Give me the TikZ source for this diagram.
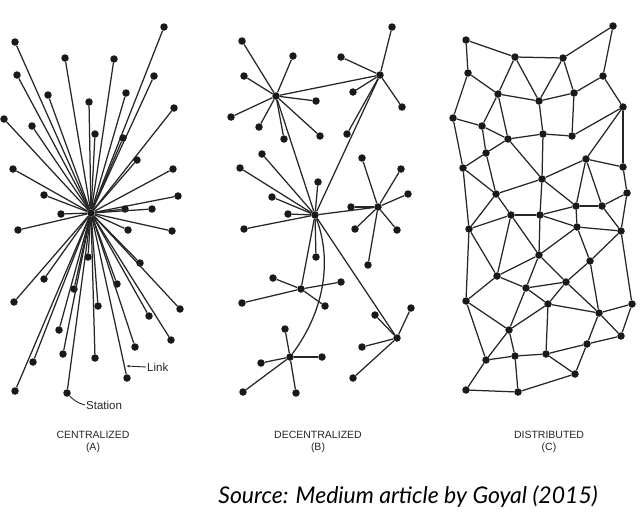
\documentclass[tikz,border=0pt]{standalone}
\usepackage{fontspec}
\newfontfamily\lblfont{Liberation Sans}
\newfontfamily\srcfont{Lato}
\usetikzlibrary{arrows.meta, positioning}

\begin{document}
\begin{tikzpicture}[
      x=1pt, y=-1pt,
      station/.style={circle, fill=black!90, inner sep=0pt, minimum size=7.5pt},
      link/.style={line width=1.25pt, black!85},
      panelcap/.style={font=\lblfont\fontsize{10.5}{12}\selectfont, align=center, black!85},
      tag/.style={font=\lblfont\fontsize{11.5}{13}\selectfont, black!85, inner sep=1pt},
    ]
      \useasboundingbox[fill=white] (0,0) rectangle (641,523);

      % (A) centralized
      \node[station] (a0) at (91,213) {};
      \foreach \x/\y [count=\i] in {164/27, 15/42, 65/58, 114/59, 17/75, 154/76, 48/95,
          126/93, 89/102, 174/108, 4/119, 32/126, 95/134, 123/138, 137/160, 13/169,
          173/169, 44/195, 178/196, 125/209, 152/209, 61/214, 18/230, 128/230, 172/231,
          88/257, 140/263, 44/279, 117/284, 74/289, 14/302, 180/309, 98/306, 149/316,
          59/330, 171/340, 135/347, 63/354, 95/358, 33/362, 127/378, 15/391, 67/393} {
        \node[station] (a\i) at (\x,\y) {};
        \draw[link] (a0) -- (a\i);
      }
      \coordinate (lk) at (126.5,366);
      \node[tag, anchor=west] (lblink) at (146,367) {Link};
      \draw[link, line width=0.9pt, -{Stealth[length=3.5pt]}] (lblink.west) -- (lk);
      \node[tag, anchor=west] (lbst) at (85,405) {Station};
      \draw[link, line width=0.9pt] (lbst.west) to[bend left=15] (a43);

      % (B) decentralized
      \node[station] (b0) at (315,215) {};
      \node[station] (b1) at (380,75) {};
      \node[station] (b2) at (276,96) {};
      \node[station] (b3) at (378,207) {};
      \node[station] (b4) at (301,289) {};
      \node[station] (b5) at (397,338) {};
      \node[station] (b6) at (290,357) {};
      \foreach \h/\pts in {
          b2/{242/41, 293/56, 244/76, 316/101, 231/117, 259/127, 284/139, 320/136},
          b1/{392/27, 341/57, 353/92, 402/107, 347/134},
          b0/{262/154, 240/168, 318/182, 272/197, 288/214, 244/229, 316/257},
          b3/{362/158, 401/169, 408/194, 351/207, 355/229, 397/230, 368/265},
          b4/{273/278, 341/282, 242/303, 325/306},
          b5/{411/308, 375/315, 362/347, 353/378},
          b6/{285/329, 322/357, 261/363, 243/392, 296/393}} {
        \foreach \x/\y [count=\i] in \pts {
          \node[station] (\h l\i) at (\x,\y) {};
          \draw[link] (\h) -- (\h l\i);
        }
      }
      \draw[link] (b2) -- (b1);
      \draw[link] (b2) -- (b0);
      \draw[link] (b1) -- (b0);
      \draw[link] (b0) -- (b3);
      \draw[link] (b0) -- (b4);
      \draw[link] (b0) -- (b5);
      \draw[link] (b0) .. controls (332,260) and (325,310) .. (b6);

      % (C) distributed
      \foreach \x/\y [count=\i] in {466/40, 613/26, 515/57, 563/58, 468/73, 603/76,
          498/94, 539/101, 574/93, 623/107, 453/118, 482/126, 508/139, 543/134, 572/136,
          486/153, 586/159, 463/168, 623/167, 542/179, 496/194, 627/193, 576/206,
          602/206, 511/215, 540/215, 577/227, 469/229, 621/231, 539/255, 590/261,
          497/276, 566/282, 526/288, 466/301, 548/304, 632/304, 599/313, 509/330,
          621/336, 587/344, 486/360, 515/356, 546/354, 575/374, 466/390, 518/392}
        \node[station] (c\i) at (\x,\y) {};
      \foreach \u/\v in {1/3, 1/5, 3/4, 4/2, 2/6, 3/7, 3/8, 4/8, 4/9, 5/7, 5/11, 6/9,
          6/10, 7/8, 8/9, 7/12, 7/13, 8/14, 9/15, 11/12, 11/18, 12/13, 12/16, 13/14,
          14/15, 13/16, 13/20, 15/10, 10/17, 10/19, 14/20, 16/18, 16/21, 18/21, 20/17,
          20/21, 17/19, 17/23, 17/24, 19/22, 22/24, 23/24, 20/26, 20/23, 26/23, 26/27,
          23/27, 24/29, 27/29, 22/29, 21/28, 21/25, 18/28, 28/25, 25/26, 28/32, 25/32,
          25/30, 26/30, 27/30, 27/31, 29/31, 29/37, 28/35, 32/30, 32/34, 32/35, 30/34,
          30/33, 31/33, 31/38, 34/33, 34/36, 33/36, 33/38, 34/39, 35/39, 35/42, 36/39,
          36/38, 36/44, 37/38, 37/40, 38/40, 38/41, 40/41, 39/42, 39/43, 42/43, 43/44,
          44/41, 44/45, 41/45, 42/46, 43/47, 46/47, 47/45}
        \draw[link] (c\u) -- (c\v);

      \node[panelcap] (capa) at (93,442) {CENTRALIZED\\(A)};
      \node[panelcap] (capb) at (318,442) {DECENTRALIZED\\(B)};
      \node[panelcap] (capc) at (549,442) {DISTRIBUTED\\(C)};

      \node[font=\srcfont\itshape\fontsize{23}{27}\selectfont] (src) at (408,497)
        {Source: Medium article by Goyal (2015)};
    \end{tikzpicture}
\end{document}
